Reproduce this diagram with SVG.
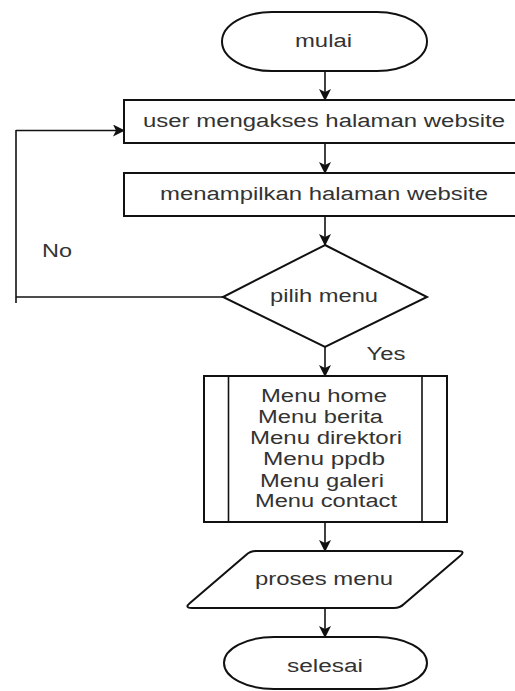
<svg xmlns="http://www.w3.org/2000/svg" width="515" height="691" viewBox="0 0 515 691">
<style>
.s{fill:#fff;stroke:#111;stroke-width:2}
.c{fill:none;stroke:#111;stroke-width:1.6}
text{font-family:"Liberation Sans",Arial,sans-serif;font-size:18px;fill:#333;text-anchor:middle}
</style>
<defs>
<marker id="a" markerUnits="userSpaceOnUse" markerWidth="12" markerHeight="12" viewBox="0 0 12 12" refX="11" refY="6" orient="auto">
<path d="M0,0 L12,6 L0,12 L3,6 z" fill="#111"/>
</marker>
</defs>
<g id="connectors">
<line class="c" x1="325" y1="71" x2="325" y2="100" marker-end="url(#a)"/>
<line class="c" x1="325" y1="143" x2="325" y2="173" marker-end="url(#a)"/>
<line class="c" x1="325" y1="216" x2="325" y2="245" marker-end="url(#a)"/>
<line class="c" x1="325" y1="347" x2="325" y2="376" marker-end="url(#a)"/>
<line class="c" x1="325" y1="522" x2="325" y2="551" marker-end="url(#a)"/>
<line class="c" x1="325" y1="608" x2="325" y2="637" marker-end="url(#a)"/>
<polyline class="c" points="223,297 16,297"/>
<line class="c" x1="16" y1="303" x2="16" y2="130"/>
<polyline class="c" points="16,130.5 124,130.5" marker-end="url(#a)"/>
<text x="57" y="257" textLength="30" lengthAdjust="spacingAndGlyphs">No</text>
<text x="386" y="360" textLength="39" lengthAdjust="spacingAndGlyphs">Yes</text>
</g>
<g id="mulai">
<rect class="s" x="222" y="12" width="205" height="59" rx="50" ry="29.5"/>
<text x="323.5" y="47" textLength="57" lengthAdjust="spacingAndGlyphs">mulai</text>
</g>
<g id="akses">
<rect class="s" x="124" y="100" width="402" height="43"/>
<text x="324" y="127" textLength="362" lengthAdjust="spacingAndGlyphs">user mengakses halaman website</text>
</g>
<g id="tampil">
<rect class="s" x="124" y="173" width="402" height="43"/>
<text x="324" y="200" textLength="328" lengthAdjust="spacingAndGlyphs">menampilkan halaman website</text>
</g>
<g id="pilih">
<polygon class="s" points="325,245 427,297 325,347 223,297" stroke-width="2.5"/>
<text x="324" y="302" textLength="108" lengthAdjust="spacingAndGlyphs">pilih menu</text>
</g>
<g id="menu">
<rect class="s" x="204" y="376" width="243" height="146"/>
<line class="c" x1="228.5" y1="376" x2="228.5" y2="522" stroke-width="2"/>
<line class="c" x1="422" y1="376" x2="422" y2="522" stroke-width="2"/>
<text x="324" y="402" textLength="126" lengthAdjust="spacingAndGlyphs">Menu home</text>
<text x="320.5" y="423" textLength="125" lengthAdjust="spacingAndGlyphs">Menu berita</text>
<text x="326" y="444" textLength="152" lengthAdjust="spacingAndGlyphs">Menu direktori</text>
<text x="324" y="465" textLength="122" lengthAdjust="spacingAndGlyphs">Menu ppdb</text>
<text x="322" y="487" textLength="124" lengthAdjust="spacingAndGlyphs">Menu galeri</text>
<text x="326" y="507" textLength="142" lengthAdjust="spacingAndGlyphs">Menu contact</text>
</g>
<g id="proses">
<path class="s" d="M256,551 L458,551 Q466,551 460,556 L404,604 Q400,608 394,608 L192,608 Q184,608 190,603 L246,555 Q250,551 256,551 Z"/>
<text x="324" y="585" textLength="138" lengthAdjust="spacingAndGlyphs">proses menu</text>
</g>
<g id="selesai">
<rect class="s" x="224" y="637" width="203" height="52" rx="50" ry="26"/>
<text x="325" y="672" textLength="76" lengthAdjust="spacingAndGlyphs">selesai</text>
</g>
</svg>
